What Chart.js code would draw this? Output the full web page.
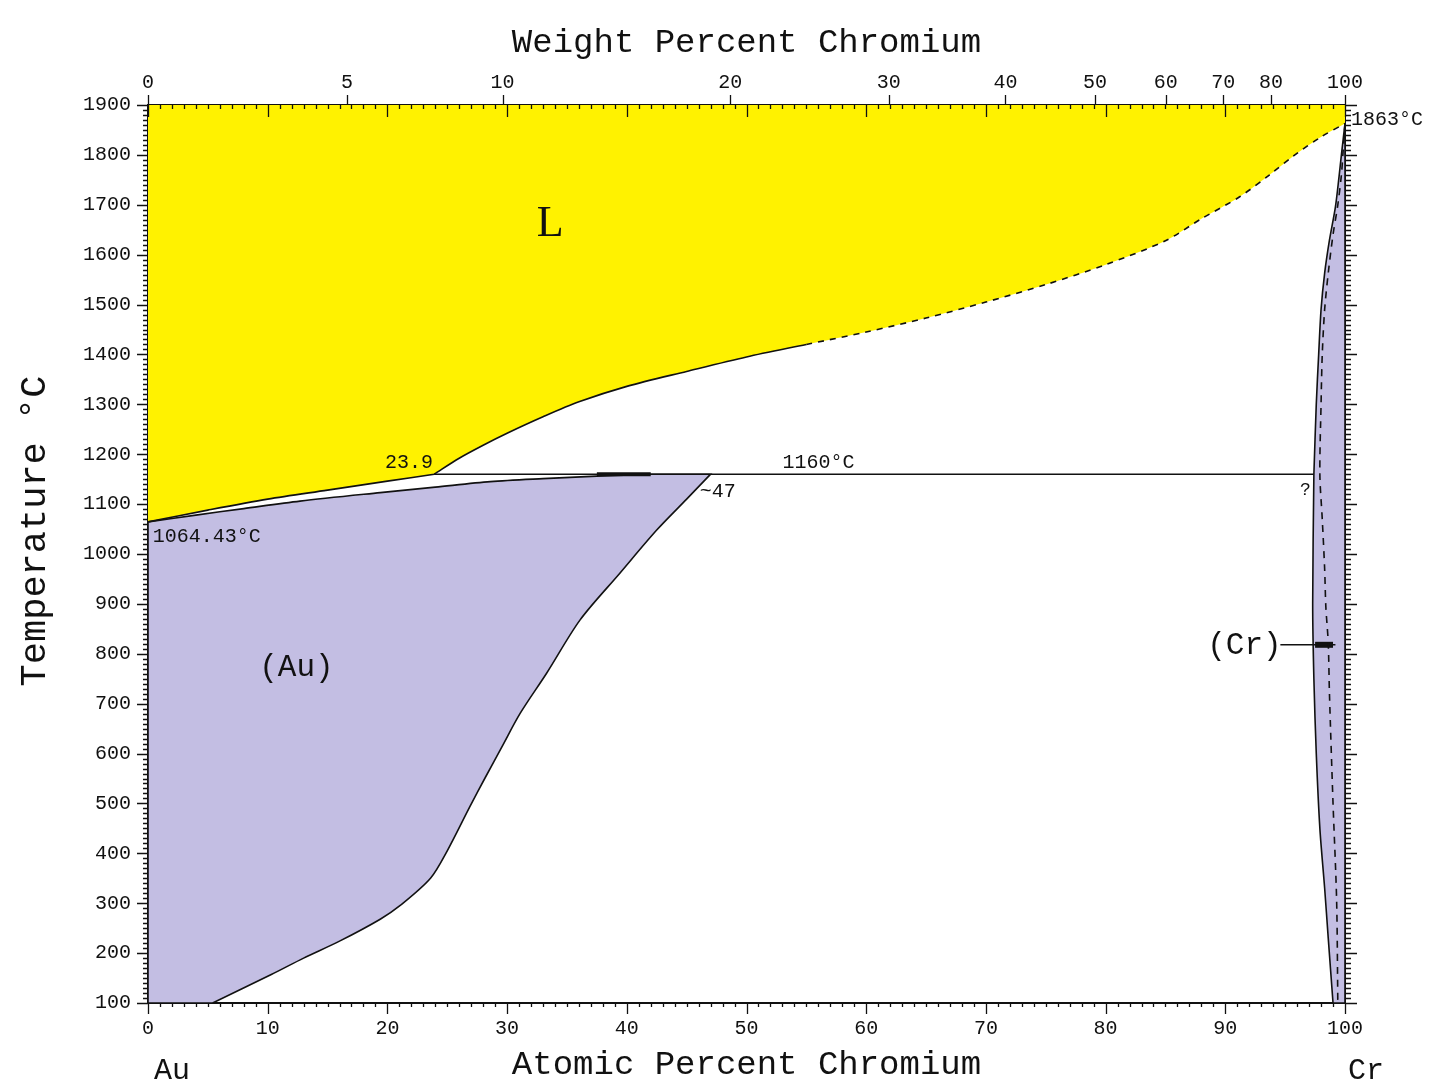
<!DOCTYPE html>
<html>
<head>
<meta charset="utf-8">
<title>Au–Cr Phase Diagram</title>
<script src="https://cdn.jsdelivr.net/npm/chart.js@4.4.1/dist/chart.umd.min.js"></script>
<style>
  html, body { margin: 0; padding: 0; background: #ffffff; overflow: hidden; }
  canvas { display: block; position: absolute; left: 0; top: 0; }
</style>
</head>
<body>
<canvas id="phase" width="1445" height="1084" style="width:1445px;height:1084px"></canvas>
<script>
// Au–Cr binary phase diagram. Composition: atomic percent Cr; temperature: °C.

// Liquidus from pure Au up to the peritectic point (23.9 at.% Cr, 1160 °C)
const liquidusAu = [[0, 1064.43], [5, 1088], [10, 1110], [15, 1128], [20, 1146], [23.9, 1160]];
// Liquidus above the peritectic, up to the Cr melting point (dashed beyond ~53 at.%)
const liquidusCr = [[23.9, 1160], [26, 1192], [28, 1218], [30, 1242], [33, 1275], [36, 1305],
                    [40, 1336], [45, 1366], [50, 1395], [55, 1420], [60, 1445], [65, 1473],
                    [70, 1505], [75, 1540], [80, 1580], [85, 1628], [88, 1672], [91.2, 1716],
                    [93.7, 1760], [95.7, 1798], [98, 1836], [100, 1863]];
const liquidusDashFrom = 53;
// Solidus of (Au)
const solidusAu = [[0, 1064.43], [4, 1078], [8, 1091], [12.7, 1106], [19.4, 1123], [24, 1134],
                   [28.6, 1145], [33, 1151], [37.5, 1156], [42, 1160], [47, 1160]];
// Solvus of (Au), from the peritectic down to 100 °C
const solvusAu = [[47, 1160], [45, 1110], [42.5, 1048], [39.4, 961], [36.1, 868], [33.3, 761],
                  [31.1, 681], [29.6, 615], [28.2, 553], [26.9, 494], [25.0, 405], [23.6, 350],
                  [21.1, 296], [19.4, 268], [16.0, 224], [13, 190], [10.3, 157], [5.4, 100]];
// Peritectic isotherm and its heavy segment
const peritectic = [[23.9, 1160], [97.4, 1160]];
const peritecticHeavy = [[37.5, 1160], [42, 1160]];
// Solidus of (Cr)
const solidusCr = [[97.4, 1160], [97.6, 1300], [97.8, 1400], [98.0, 1490], [98.3, 1563],
                   [98.7, 1629], [99.2, 1696], [99.5, 1756], [99.7, 1800], [100, 1863]];
// Solvus of (Cr)
const solvusCr = [[97.4, 1160], [97.3, 900], [97.4, 750], [97.6, 600], [97.9, 450],
                  [98.3, 330], [98.6, 230], [99.0, 100]];
// Dashed boundary inside (Cr)
const dashedCr = [[100, 1863], [99.85, 1810], [99.7, 1760], [99.4, 1700], [99.0, 1640],
                  [98.6, 1563], [98.3, 1490], [98.1, 1400], [98.0, 1300], [97.9, 1160],
                  [98.1, 1070], [98.3, 970], [98.4, 894], [98.6, 822], [98.7, 721],
                  [99.0, 500], [99.3, 306], [99.4, 100]];
// Pointer from the (Cr) label
const crPointer = [[94.6, 818], [99.2, 818]];
const crPointerHead = [[97.5, 818], [99.0, 818]];

// Axis ticks
const atTicks = [0, 10, 20, 30, 40, 50, 60, 70, 80, 90, 100];
const tempTicks = [100, 200, 300, 400, 500, 600, 700, 800, 900, 1000, 1100, 1200, 1300, 1400,
                   1500, 1600, 1700, 1800, 1900];
const wtTicks = [0, 5, 10, 20, 30, 40, 50, 60, 70, 80, 100];

// Atomic masses for weight % → atomic % conversion on the top axis
const M_CR = 51.996;
const M_AU = 196.96657;
function wtToAt(w) {
  if (w <= 0) return 0;
  if (w >= 100) return 100;
  const a = w / M_CR, b = (100 - w) / M_AU;
  return 100 * a / (a + b);
}

const pts = arr => arr.map(([x, y]) => ({ x, y }));
// repeat a vertex so the spline keeps a sharp corner there
const sharp = p => [p, p];

const YELLOW = '#fff200';
const LAVENDER = '#c3bee3';
const INK = '#111111';
const CURVE = 0.3;

// Text placed in data coordinates
const annotations = [
  { text: 'L', x: 33.6, y: 1660, font: '44px "Liberation Serif"', align: 'center' },
  { text: '(Au)', x: 12.4, y: 771, font: '31px "Liberation Mono"', align: 'center' },
  { text: '(Cr)', x: 91.6, y: 816, font: '31px "Liberation Mono"', align: 'center' },
  { text: '1160°C', x: 53.0, y: 1184, font: '20px "Liberation Mono"', align: 'left' },
  { text: '23.9', x: 19.8, y: 1182, font: '20px "Liberation Mono"', align: 'left' },
  { text: '~47', x: 46.1, y: 1124, font: '20px "Liberation Mono"', align: 'left' },
  { text: '1064.43°C', x: 0.4, y: 1034, font: '20px "Liberation Mono"', align: 'left' },
  { text: '1863°C', x: 100.5, y: 1870, font: '20px "Liberation Mono"', align: 'left' },
  { text: '?', x: 96.7, y: 1128, font: '18px "Liberation Mono"', align: 'center' }
];

const lineDs = (data, extra = {}) => Object.assign({
  data: pts(data), borderColor: INK, borderWidth: 1.6, pointRadius: 0,
  fill: false, tension: 0, order: 1
}, extra);

// Draws the minor/major tick marks of all four axes
const tickMarks = {
  id: 'tickMarks',
  afterDatasetsDraw(chart) {
    const { ctx, chartArea: a, scales } = chart;
    const xs = scales.x, ys = scales.y;
    ctx.save();
    ctx.strokeStyle = INK;
    ctx.lineWidth = 1.3;
    ctx.beginPath();
    for (let v = 0; v <= 100; v++) {
      const px = Math.round(xs.getPixelForValue(v)) + 0.5;
      const major = v % 10 === 0;
      ctx.moveTo(px, a.bottom); ctx.lineTo(px, a.bottom + (major ? 11 : 4));
      ctx.moveTo(px, a.top); ctx.lineTo(px, a.top + (major ? 12 : 4));
    }
    for (let t = 100; t <= 1900; t += 10) {
      const py = Math.round(ys.getPixelForValue(t)) + 0.5;
      const major = t % 100 === 0;
      ctx.moveTo(a.left, py); ctx.lineTo(a.left - (major ? 11 : 5), py);
      ctx.moveTo(a.right, py); ctx.lineTo(a.right + (major ? 12 : 6), py);
    }
    wtTicks.forEach(w => {
      const px = Math.round(xs.getPixelForValue(wtToAt(w))) + 0.5;
      ctx.moveTo(px, a.top); ctx.lineTo(px, a.top - 10);
    });
    ctx.stroke();
    ctx.restore();
  }
};

// Region labels, values, axis titles and element symbols
const textLayer = {
  id: 'textLayer',
  afterDraw(chart) {
    const { ctx, chartArea: a, scales } = chart;
    ctx.save();
    ctx.fillStyle = INK;
    ctx.textBaseline = 'middle';
    annotations.forEach(n => {
      ctx.font = n.font;
      ctx.textAlign = n.align;
      ctx.fillText(n.text, scales.x.getPixelForValue(n.x), scales.y.getPixelForValue(n.y));
    });
    const cx = (a.left + a.right) / 2;
    ctx.textAlign = 'center';
    ctx.font = '34px "Liberation Mono"';
    ctx.fillText('Weight Percent Chromium', cx, a.top - 62);
    ctx.fillText('Atomic Percent Chromium', cx, a.bottom + 62);
    ctx.font = '30px "Liberation Mono"';
    ctx.fillText('Au', scales.x.getPixelForValue(0) + 24, a.bottom + 68);
    ctx.fillText('Cr', scales.x.getPixelForValue(100) + 21, a.bottom + 68);
    ctx.translate(a.left - 113, (a.top + a.bottom) / 2 - 23);
    ctx.rotate(-Math.PI / 2);
    ctx.font = '37px "Liberation Mono"';
    ctx.fillText('Temperature °C', 0, 0);
    ctx.restore();
  }
};

const whiteBg = {
  id: 'whiteBg',
  beforeDraw(chart) {
    const { ctx, width, height } = chart;
    ctx.save();
    ctx.fillStyle = '#ffffff';
    ctx.fillRect(0, 0, width, height);
    ctx.restore();
  }
};

const tickFont = { family: '"Liberation Mono"', size: 20 };
const frame = { display: true, color: INK, width: 2 };

// Closed outlines of the two solid-solution fields
const auField = [[0, 100]].concat(sharp([0, 1064.43]), solidusAu.slice(1, -1),
  sharp([42, 1160]), sharp([47, 1160]), solvusAu.slice(1, -1), sharp([5.4, 100]), [[0, 100]]);
const crField = [].concat(sharp([97.4, 1160]), solidusCr.slice(1, -1), sharp([100, 1863]),
  sharp([100, 100]), sharp([99.0, 100]), solvusCr.slice().reverse().slice(1, -1), sharp([97.4, 1160]));
// Liquidus with a sharp bend at the peritectic point
const liquidus = liquidusAu.slice(0, -1).concat(sharp([23.9, 1160]), liquidusCr.slice(1));

new Chart(document.getElementById('phase'), {
  type: 'line',
  data: {
    datasets: [
      // liquid region
      { data: pts(liquidus), fill: 'end', backgroundColor: YELLOW,
        borderWidth: 0, pointRadius: 0, tension: CURVE, order: 3 },
      // liquidus line (solid, then dashed toward Cr)
      { data: pts(liquidus), fill: false, borderColor: INK, borderWidth: 1.6, pointRadius: 0,
        tension: CURVE, order: 1,
        segment: { borderDash: c => (c.p0.parsed.x >= liquidusDashFrom ? [6, 6] : undefined) } },
      // (Au) solid solution
      { data: pts(auField), fill: 'shape', backgroundColor: LAVENDER,
        borderColor: INK, borderWidth: 1.6, pointRadius: 0, tension: CURVE, order: 2 },
      // (Cr) solid solution
      { data: pts(crField), fill: 'shape', backgroundColor: LAVENDER,
        borderColor: INK, borderWidth: 1.6, pointRadius: 0, tension: CURVE, order: 2 },
      lineDs(peritectic, { borderWidth: 1.5 }),
      lineDs(peritecticHeavy, { borderWidth: 4 }),
      lineDs(dashedCr, { borderDash: [7, 6], tension: CURVE }),
      lineDs(crPointer, { borderWidth: 1.5 }),
      lineDs(crPointerHead, { borderWidth: 6 })
    ]
  },
  options: {
    responsive: false,
    devicePixelRatio: 1,
    animation: false,
    layout: { padding: 0 },
    plugins: {
      legend: { display: false },
      tooltip: { enabled: false },
      filler: { drawTime: 'beforeDatasetsDraw' }
    },
    scales: {
      x: {
        type: 'linear', position: 'bottom', min: 0, max: 100,
        afterBuildTicks: s => { s.ticks = atTicks.map(v => ({ value: v })); },
        afterFit: s => { s.height = 81; },
        ticks: { font: tickFont, color: INK, padding: 14, maxRotation: 0, autoSkip: false,
                 callback: v => String(v) },
        grid: { display: true, drawOnChartArea: false, drawTicks: false },
        border: frame
      },
      x2: {
        type: 'linear', position: 'top', min: 0, max: 100,
        afterBuildTicks: s => { s.ticks = wtTicks.map(w => ({ value: wtToAt(w) })); },
        afterFit: s => { s.height = 105; },
        ticks: { font: tickFont, color: INK, padding: 10, maxRotation: 0, autoSkip: false,
                 callback: (v, i) => String(wtTicks[i]) },
        grid: { display: true, drawOnChartArea: false, drawTicks: false },
        border: frame
      },
      y: {
        type: 'linear', position: 'left', min: 100, max: 1900,
        afterBuildTicks: s => { s.ticks = tempTicks.map(v => ({ value: v })); },
        afterFit: s => { s.width = 148; },
        ticks: { font: tickFont, color: INK, padding: 17, autoSkip: false,
                 callback: v => String(v) },
        grid: { display: true, drawOnChartArea: false, drawTicks: false },
        border: frame
      },
      y2: {
        type: 'linear', position: 'right', min: 100, max: 1900,
        afterFit: s => { s.width = 100; },
        ticks: { display: false },
        grid: { display: true, drawOnChartArea: false, drawTicks: false },
        border: frame
      }
    }
  },
  plugins: [whiteBg, tickMarks, textLayer]
});
</script>
</body>
</html>
